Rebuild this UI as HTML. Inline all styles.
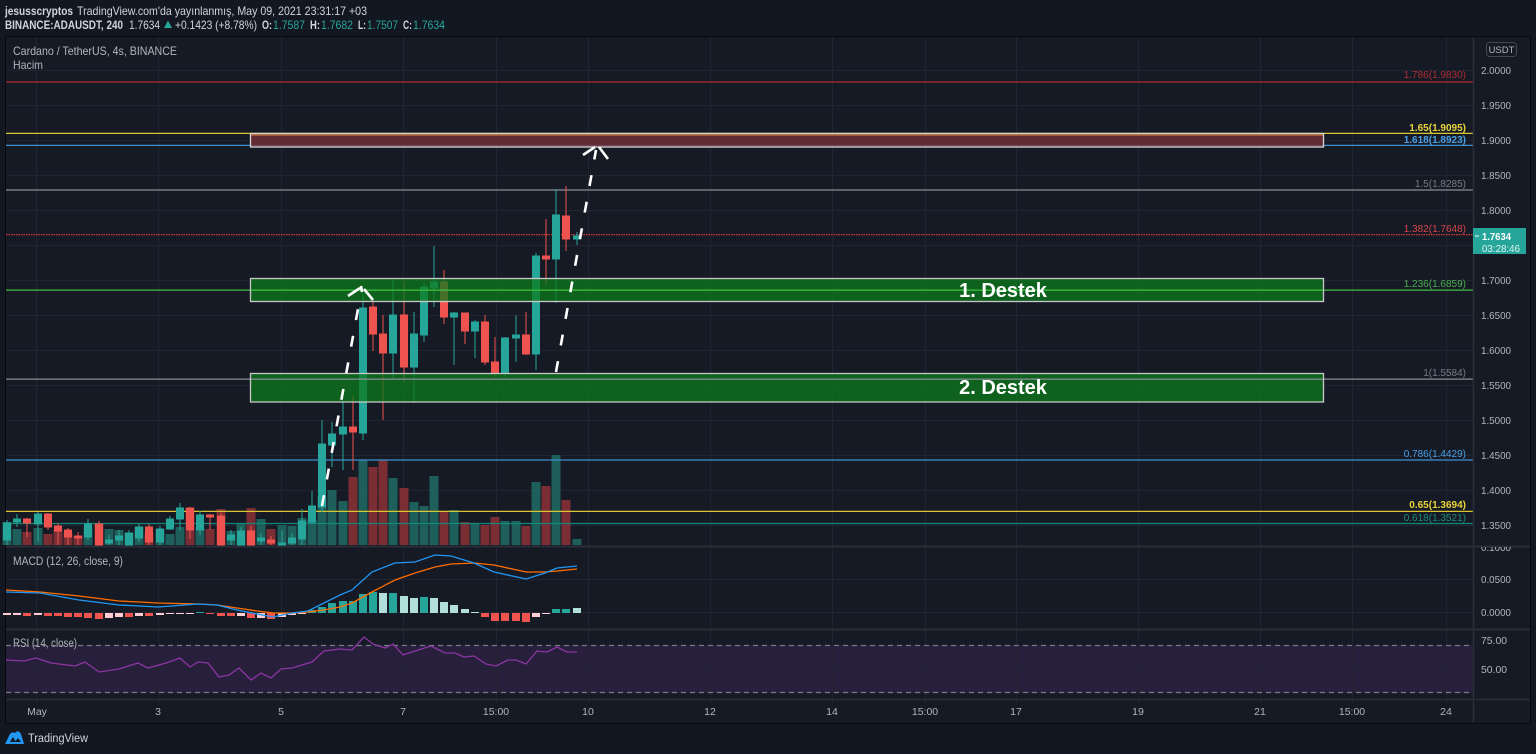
<!DOCTYPE html>
<html><head><meta charset="utf-8">
<style>
html,body{margin:0;padding:0;background:#131722;width:1536px;height:754px;overflow:hidden}
svg{display:block}
text{font-family:"Liberation Sans",sans-serif}
</style></head><body>
<svg width="1536" height="754" viewBox="0 0 1536 754" xmlns="http://www.w3.org/2000/svg">
<defs>
<clipPath id="macdAxis"><rect x="1474" y="547" width="56" height="82"/></clipPath>
<clipPath id="plot"><rect x="6" y="37" width="1467" height="662"/></clipPath>
</defs>
<rect width="1536" height="754" fill="#131722"/>
<!-- header -->
<g font-size="12" fill="#d1d4dc">
<text x="5" y="15" font-weight="bold" textLength="68" lengthAdjust="spacingAndGlyphs">jesusscryptos</text>
<text x="77" y="15" textLength="290" lengthAdjust="spacingAndGlyphs">TradingView.com'da yayınlanmış, May 09, 2021 23:31:17 +03</text>
<text x="5" y="29" font-weight="bold" textLength="118" lengthAdjust="spacingAndGlyphs">BINANCE:ADAUSDT, 240</text>
<text x="129" y="29" textLength="31" lengthAdjust="spacingAndGlyphs">1.7634</text>
<polygon points="164,28 168,20.5 172,28" fill="#26a69a"/>
<text x="175" y="29" textLength="82" lengthAdjust="spacingAndGlyphs">+0.1423 (+8.78%)</text>
<text x="262" y="29" font-weight="bold" textLength="10" lengthAdjust="spacingAndGlyphs">O:</text>
<text x="273" y="29" fill="#26a69a" textLength="32" lengthAdjust="spacingAndGlyphs">1.7587</text>
<text x="310" y="29" font-weight="bold" textLength="10" lengthAdjust="spacingAndGlyphs">H:</text>
<text x="321" y="29" fill="#26a69a" textLength="32" lengthAdjust="spacingAndGlyphs">1.7682</text>
<text x="358" y="29" font-weight="bold" textLength="8" lengthAdjust="spacingAndGlyphs">L:</text>
<text x="367" y="29" fill="#26a69a" textLength="31" lengthAdjust="spacingAndGlyphs">1.7507</text>
<text x="403" y="29" font-weight="bold" textLength="9" lengthAdjust="spacingAndGlyphs">C:</text>
<text x="413" y="29" fill="#26a69a" textLength="32" lengthAdjust="spacingAndGlyphs">1.7634</text>
</g>
<!-- frame -->
<rect x="5.5" y="36.5" width="1525" height="687" fill="#161a25" stroke="#06080c" stroke-width="1"/>
<!-- RSI band -->
<rect x="6" y="645" width="1467" height="48" fill="#271f3c"/>
<!-- grid -->
<g stroke="#212532" stroke-width="1">
<line x1="6" y1="70.5" x2="1473" y2="70.5"/><line x1="6" y1="105.5" x2="1473" y2="105.5"/>
<line x1="6" y1="140.5" x2="1473" y2="140.5"/><line x1="6" y1="175.5" x2="1473" y2="175.5"/>
<line x1="6" y1="210.5" x2="1473" y2="210.5"/><line x1="6" y1="245.5" x2="1473" y2="245.5"/>
<line x1="6" y1="280.5" x2="1473" y2="280.5"/><line x1="6" y1="315.5" x2="1473" y2="315.5"/>
<line x1="6" y1="350.5" x2="1473" y2="350.5"/><line x1="6" y1="385.5" x2="1473" y2="385.5"/>
<line x1="6" y1="420.5" x2="1473" y2="420.5"/><line x1="6" y1="455.5" x2="1473" y2="455.5"/>
<line x1="6" y1="490.5" x2="1473" y2="490.5"/><line x1="6" y1="525.5" x2="1473" y2="525.5"/>
<line x1="6" y1="579.5" x2="1473" y2="579.5"/><line x1="6" y1="612.5" x2="1473" y2="612.5"/>
<line x1="6" y1="669.5" x2="1473" y2="669.5"/>
<line x1="36.5" y1="37" x2="36.5" y2="704"/><line x1="158.5" y1="37" x2="158.5" y2="704"/>
<line x1="281.5" y1="37" x2="281.5" y2="704"/><line x1="403.5" y1="37" x2="403.5" y2="704"/>
<line x1="496.5" y1="37" x2="496.5" y2="704"/><line x1="588.5" y1="37" x2="588.5" y2="704"/>
<line x1="710.5" y1="37" x2="710.5" y2="704"/><line x1="832.5" y1="37" x2="832.5" y2="704"/>
<line x1="925.5" y1="37" x2="925.5" y2="704"/><line x1="1016.5" y1="37" x2="1016.5" y2="704"/>
<line x1="1138.5" y1="37" x2="1138.5" y2="704"/><line x1="1260.5" y1="37" x2="1260.5" y2="704"/>
<line x1="1352.5" y1="37" x2="1352.5" y2="704"/><line x1="1446.5" y1="37" x2="1446.5" y2="704"/>
</g>
<!-- titles -->
<g fill="#b2b5be">
<text x="13" y="55" font-size="12" textLength="164" lengthAdjust="spacingAndGlyphs">Cardano / TetherUS, 4s, BINANCE</text>
<text x="13" y="69" font-size="12" textLength="30" lengthAdjust="spacingAndGlyphs">Hacim</text>
<text x="13" y="565" font-size="11.5" textLength="110" lengthAdjust="spacingAndGlyphs">MACD (12, 26, close, 9)</text>
<text x="13" y="647" font-size="11.5" textLength="64" lengthAdjust="spacingAndGlyphs">RSI (14, close)</text>
</g>
<!-- volume -->
<g>
<rect x="2.5" y="522" width="9" height="23" fill="#1e5f5b"/>
<rect x="12.5" y="529" width="9" height="16" fill="#1e5f5b"/>
<rect x="22.5" y="532" width="9" height="13" fill="#7a2e34"/>
<rect x="33.5" y="528" width="9" height="17" fill="#1e5f5b"/>
<rect x="43.5" y="534" width="9" height="11" fill="#7a2e34"/>
<rect x="53.5" y="530" width="9" height="15" fill="#7a2e34"/>
<rect x="63.5" y="533" width="9" height="12" fill="#7a2e34"/>
<rect x="73.5" y="536" width="9" height="9" fill="#7a2e34"/>
<rect x="83.5" y="527" width="9" height="18" fill="#1e5f5b"/>
<rect x="94.5" y="524" width="9" height="21" fill="#7a2e34"/>
<rect x="104.5" y="529" width="9" height="16" fill="#1e5f5b"/>
<rect x="114.5" y="530" width="9" height="15" fill="#1e5f5b"/>
<rect x="124.5" y="533" width="9" height="12" fill="#1e5f5b"/>
<rect x="134.5" y="527" width="9" height="18" fill="#1e5f5b"/>
<rect x="144.5" y="533" width="9" height="12" fill="#7a2e34"/>
<rect x="155.5" y="529" width="9" height="16" fill="#1e5f5b"/>
<rect x="165.5" y="534" width="9" height="11" fill="#1e5f5b"/>
<rect x="175.5" y="527" width="9" height="18" fill="#1e5f5b"/>
<rect x="185.5" y="508" width="9" height="37" fill="#7a2e34"/>
<rect x="195.5" y="527" width="9" height="18" fill="#1e5f5b"/>
<rect x="205.5" y="529" width="9" height="16" fill="#7a2e34"/>
<rect x="216.5" y="509" width="9" height="36" fill="#7a2e34"/>
<rect x="226.5" y="531" width="9" height="14" fill="#1e5f5b"/>
<rect x="236.5" y="524" width="9" height="21" fill="#1e5f5b"/>
<rect x="246.5" y="508" width="9" height="37" fill="#7a2e34"/>
<rect x="256.5" y="519" width="9" height="26" fill="#1e5f5b"/>
<rect x="266.5" y="529" width="9" height="16" fill="#7a2e34"/>
<rect x="277.5" y="525" width="9" height="20" fill="#1e5f5b"/>
<rect x="287.5" y="526" width="9" height="19" fill="#1e5f5b"/>
<rect x="297.5" y="518" width="9" height="27" fill="#1e5f5b"/>
<rect x="307.5" y="520" width="9" height="25" fill="#1e5f5b"/>
<rect x="317.5" y="497" width="9" height="48" fill="#1e5f5b"/>
<rect x="327.5" y="490" width="9" height="55" fill="#1e5f5b"/>
<rect x="338.5" y="501" width="9" height="44" fill="#1e5f5b"/>
<rect x="348.5" y="477" width="9" height="68" fill="#7a2e34"/>
<rect x="358.5" y="460" width="9" height="85" fill="#1e5f5b"/>
<rect x="368.5" y="467" width="9" height="78" fill="#7a2e34"/>
<rect x="378.5" y="460" width="9" height="85" fill="#7a2e34"/>
<rect x="388.5" y="478" width="9" height="67" fill="#1e5f5b"/>
<rect x="399.5" y="488" width="9" height="57" fill="#7a2e34"/>
<rect x="409.5" y="502" width="9" height="43" fill="#1e5f5b"/>
<rect x="419.5" y="506" width="9" height="39" fill="#1e5f5b"/>
<rect x="429.5" y="476" width="9" height="69" fill="#1e5f5b"/>
<rect x="439.5" y="511" width="9" height="34" fill="#7a2e34"/>
<rect x="449.5" y="510" width="9" height="35" fill="#1e5f5b"/>
<rect x="460.5" y="522" width="9" height="23" fill="#7a2e34"/>
<rect x="470.5" y="524" width="9" height="21" fill="#1e5f5b"/>
<rect x="480.5" y="525" width="9" height="20" fill="#7a2e34"/>
<rect x="490.5" y="517" width="9" height="28" fill="#7a2e34"/>
<rect x="500.5" y="521" width="9" height="24" fill="#1e5f5b"/>
<rect x="511.5" y="521" width="9" height="24" fill="#1e5f5b"/>
<rect x="521.5" y="526" width="9" height="19" fill="#7a2e34"/>
<rect x="531.5" y="482" width="9" height="63" fill="#1e5f5b"/>
<rect x="541.5" y="486" width="9" height="59" fill="#7a2e34"/>
<rect x="551.5" y="455" width="9" height="90" fill="#1e5f5b"/>
<rect x="561.5" y="500" width="9" height="45" fill="#7a2e34"/>
<rect x="572.5" y="539" width="9" height="6" fill="#1e5f5b"/>
</g>
<!-- fib lines -->
<g stroke-width="1.2">
<line x1="6" y1="82" x2="1473" y2="82" stroke="#b02a33"/>
<line x1="6" y1="133.4" x2="1473" y2="133.4" stroke="#d8c530"/>
<line x1="6" y1="145.4" x2="1473" y2="145.4" stroke="#3f8fd0"/>
<line x1="6" y1="190" x2="1473" y2="190" stroke="#8a8d96"/>
<line x1="6" y1="234.6" x2="1473" y2="234.6" stroke="#d03a3a" stroke-dasharray="1.5 1"/>
<line x1="6" y1="290.1" x2="1473" y2="290.1" stroke="#3fbf3f"/>
<line x1="6" y1="379.1" x2="1473" y2="379.1" stroke="#8a8d96"/>
<line x1="6" y1="460" x2="1473" y2="460" stroke="#3f8fd0"/>
<line x1="6" y1="511.4" x2="1473" y2="511.4" stroke="#d8c530"/>
<line x1="6" y1="523.5" x2="1473" y2="523.5" stroke="#13867a"/>
</g>
<!-- candles -->
<g stroke-width="1">
<g stroke="#26a69a" fill="#26a69a">
<line x1="7" y1="520" x2="7" y2="545"/><rect x="3.5" y="523" width="7" height="17"/>
<line x1="17" y1="514" x2="17" y2="527"/><rect x="13.5" y="519" width="7" height="3"/>
<line x1="38" y1="512" x2="38" y2="542"/><rect x="34.5" y="514" width="7" height="10"/>
<line x1="88" y1="519" x2="88" y2="540"/><rect x="84.5" y="524" width="7" height="13"/>
<line x1="109" y1="535" x2="109" y2="545"/><rect x="105.5" y="540" width="7" height="3"/>
<line x1="119" y1="530" x2="119" y2="545"/><rect x="115.5" y="536" width="7" height="4"/>
<line x1="129" y1="530" x2="129" y2="545"/><rect x="125.5" y="533" width="7" height="12"/>
<line x1="139" y1="524" x2="139" y2="542"/><rect x="135.5" y="527" width="7" height="11"/>
<line x1="160" y1="526" x2="160" y2="545"/><rect x="156.5" y="529" width="7" height="13"/>
<line x1="170" y1="516" x2="170" y2="530"/><rect x="166.5" y="519" width="7" height="10"/>
<line x1="180" y1="503" x2="180" y2="530"/><rect x="176.5" y="508" width="7" height="11"/>
<line x1="200" y1="511" x2="200" y2="535"/><rect x="196.5" y="515" width="7" height="15"/>
<line x1="231" y1="530" x2="231" y2="545"/><rect x="227.5" y="535" width="7" height="5"/>
<line x1="241" y1="527" x2="241" y2="545"/><rect x="237.5" y="531" width="7" height="14"/>
<line x1="261" y1="533" x2="261" y2="545"/><rect x="257.5" y="538" width="7" height="3"/>
<line x1="282" y1="530" x2="282" y2="545"/><rect x="278.5" y="543" width="7" height="2"/>
<line x1="292" y1="533" x2="292" y2="545"/><rect x="288.5" y="538" width="7" height="5"/>
<line x1="302" y1="509" x2="302" y2="545"/><rect x="298.5" y="521" width="7" height="18"/>
<line x1="312" y1="491" x2="312" y2="524"/><rect x="308.5" y="506" width="7" height="16"/>
<line x1="322" y1="420" x2="322" y2="512"/><rect x="318.5" y="444" width="7" height="63"/>
<line x1="332" y1="422" x2="332" y2="467"/><rect x="328.5" y="434" width="7" height="11"/>
<line x1="343" y1="400" x2="343" y2="470"/><rect x="339.5" y="427" width="7" height="7"/>
<line x1="363" y1="293" x2="363" y2="440"/><rect x="359.5" y="308" width="7" height="125"/>
<line x1="393" y1="280" x2="393" y2="379"/><rect x="389.5" y="315" width="7" height="38"/>
<line x1="414" y1="312" x2="414" y2="403"/><rect x="410.5" y="334" width="7" height="33"/>
<line x1="424" y1="283" x2="424" y2="342"/><rect x="420.5" y="287" width="7" height="48"/>
<line x1="434" y1="246" x2="434" y2="307"/><rect x="430.5" y="282" width="7" height="6"/>
<line x1="454" y1="312" x2="454" y2="365"/><rect x="450.5" y="313" width="7" height="4"/>
<line x1="475" y1="320" x2="475" y2="358"/><rect x="471.5" y="322" width="7" height="9"/>
<line x1="505" y1="337" x2="505" y2="377"/><rect x="501.5" y="338" width="7" height="35"/>
<line x1="516" y1="315" x2="516" y2="362"/><rect x="512.5" y="335" width="7" height="3"/>
<line x1="536" y1="253" x2="536" y2="370"/><rect x="532.5" y="256" width="7" height="98"/>
<line x1="556" y1="189" x2="556" y2="303"/><rect x="552.5" y="215" width="7" height="44"/>
<line x1="577" y1="232" x2="577" y2="245"/><rect x="573.5" y="236" width="7" height="3"/>
</g>
<g stroke="#ef5350" fill="#ef5350">
<line x1="27" y1="518" x2="27" y2="537"/><rect x="23.5" y="519" width="7" height="4"/>
<line x1="48" y1="513" x2="48" y2="530"/><rect x="44.5" y="514" width="7" height="13"/>
<line x1="58" y1="523" x2="58" y2="545"/><rect x="54.5" y="526" width="7" height="5"/>
<line x1="68" y1="528" x2="68" y2="545"/><rect x="64.5" y="530" width="7" height="7"/>
<line x1="78" y1="532" x2="78" y2="545"/><rect x="74.5" y="536" width="7" height="2"/>
<line x1="99" y1="521" x2="99" y2="545"/><rect x="95.5" y="524" width="7" height="21"/>
<line x1="149" y1="524" x2="149" y2="545"/><rect x="145.5" y="527" width="7" height="15"/>
<line x1="190" y1="507" x2="190" y2="539"/><rect x="186.5" y="508" width="7" height="22"/>
<line x1="210" y1="514" x2="210" y2="530"/><rect x="206.5" y="515" width="7" height="2"/>
<line x1="221" y1="513" x2="221" y2="545"/><rect x="217.5" y="516" width="7" height="29"/>
<line x1="251" y1="526" x2="251" y2="545"/><rect x="247.5" y="531" width="7" height="14"/>
<line x1="271" y1="536" x2="271" y2="545"/><rect x="267.5" y="540" width="7" height="3"/>
<line x1="353" y1="396" x2="353" y2="470"/><rect x="349.5" y="427" width="7" height="5"/>
<line x1="373" y1="298" x2="373" y2="351"/><rect x="369.5" y="307" width="7" height="27"/>
<line x1="383" y1="315" x2="383" y2="420"/><rect x="379.5" y="334" width="7" height="19"/>
<line x1="404" y1="281" x2="404" y2="382"/><rect x="400.5" y="315" width="7" height="52"/>
<line x1="444" y1="270" x2="444" y2="324"/><rect x="440.5" y="282" width="7" height="35"/>
<line x1="465" y1="313" x2="465" y2="344"/><rect x="461.5" y="313" width="7" height="18"/>
<line x1="485" y1="315" x2="485" y2="365"/><rect x="481.5" y="322" width="7" height="40"/>
<line x1="495" y1="337" x2="495" y2="377"/><rect x="491.5" y="362" width="7" height="11"/>
<line x1="526" y1="312" x2="526" y2="355"/><rect x="522.5" y="335" width="7" height="19"/>
<line x1="546" y1="219" x2="546" y2="285"/><rect x="542.5" y="256" width="7" height="3"/>
<line x1="566" y1="186" x2="566" y2="251"/><rect x="562.5" y="216" width="7" height="23"/>
</g>
</g>
<!-- zone boxes -->
<rect x="250.5" y="133.5" width="1073" height="13.5" fill="#752f34" fill-opacity="0.8" stroke="#d6d6d6" stroke-width="1.3"/>
<line x1="251" y1="135" x2="1323" y2="135" stroke="#e08a3a" stroke-width="1"/>
<rect x="250.5" y="278.5" width="1073" height="23" fill="#0d7a1c" fill-opacity="0.75" stroke="#c8c8c8" stroke-width="1.3"/>
<rect x="250.5" y="373.5" width="1073" height="28.5" fill="#0d7a1c" fill-opacity="0.75" stroke="#c8c8c8" stroke-width="1.3"/>
<line x1="251" y1="290.1" x2="1323" y2="290.1" stroke="#3fbf3f" stroke-width="1.2"/>
<line x1="251" y1="379.1" x2="1323" y2="379.1" stroke="#8a8d96" stroke-width="1.2"/>
<text x="1003" y="297" font-size="20" font-weight="bold" fill="#ffffff" text-anchor="middle">1. Destek</text>
<text x="1003" y="394" font-size="20" font-weight="bold" fill="#ffffff" text-anchor="middle">2. Destek</text>
<!-- arrows -->
<g stroke="#ffffff" stroke-width="2.6" fill="none" stroke-linecap="butt">
<line x1="322" y1="506" x2="360" y2="298" stroke-dasharray="11 16"/>
<polyline points="348,296 360,288"/><polyline points="364,289 373,300"/>
<line x1="361" y1="286" x2="362" y2="292"/>
<line x1="556" y1="372" x2="596" y2="150" stroke-dasharray="11 16"/>
<polyline points="583,155 595,147"/><polyline points="599,147 608,159"/>
</g>
<!-- fib labels -->
<g font-size="10" text-anchor="end">
<text x="1466" y="78" fill="#b02a33">1.786(1.9830)</text>
<text x="1466" y="131" fill="#e8d53b" font-weight="bold">1.65(1.9095)</text>
<text x="1466" y="143" fill="#4aa0e6" font-weight="bold">1.618(1.8923)</text>
<text x="1466" y="187" fill="#787b86">1.5(1.8285)</text>
<text x="1466" y="232" fill="#d8454a">1.382(1.7648)</text>
<text x="1466" y="287" fill="#4caf50">1.236(1.6859)</text>
<text x="1466" y="376" fill="#787b86">1(1.5584)</text>
<text x="1466" y="457" fill="#4aa0e6">0.786(1.4429)</text>
<text x="1466" y="508" fill="#e8d53b" font-weight="bold">0.65(1.3694)</text>
<text x="1466" y="521" fill="#1b8c80">0.618(1.3521)</text>
</g>
<!-- MACD histogram -->
<g>
<rect x="3" y="613" width="8" height="2" fill="#ffcdd2"/>
<rect x="13" y="613" width="8" height="2" fill="#ffcdd2"/>
<rect x="23" y="613" width="8" height="3" fill="#ef5350"/>
<rect x="34" y="613" width="8" height="2" fill="#ffcdd2"/>
<rect x="44" y="613" width="8" height="3" fill="#ef5350"/>
<rect x="54" y="613" width="8" height="3" fill="#ef5350"/>
<rect x="64" y="613" width="8" height="4" fill="#ef5350"/>
<rect x="74" y="613" width="8" height="4" fill="#ef5350"/>
<rect x="84" y="613" width="8" height="5" fill="#ef5350"/>
<rect x="95" y="613" width="8" height="6" fill="#ef5350"/>
<rect x="105" y="613" width="8" height="5" fill="#ffcdd2"/>
<rect x="115" y="613" width="8" height="4" fill="#ffcdd2"/>
<rect x="125" y="613" width="8" height="4" fill="#ef5350"/>
<rect x="135" y="613" width="8" height="3" fill="#ffcdd2"/>
<rect x="145" y="613" width="8" height="3" fill="#ef5350"/>
<rect x="156" y="613" width="8" height="2" fill="#ffcdd2"/>
<rect x="166" y="613" width="8" height="1" fill="#ffcdd2"/>
<rect x="176" y="613" width="8" height="1" fill="#ffcdd2"/>
<rect x="186" y="613" width="8" height="1" fill="#ffcdd2"/>
<rect x="196" y="612" width="8" height="1" fill="#26a69a"/>
<rect x="206" y="613" width="8" height="1" fill="#ef5350"/>
<rect x="217" y="613" width="8" height="3" fill="#ef5350"/>
<rect x="227" y="613" width="8" height="3" fill="#ef5350"/>
<rect x="237" y="613" width="8" height="3" fill="#ffcdd2"/>
<rect x="247" y="613" width="8" height="5" fill="#ef5350"/>
<rect x="257" y="613" width="8" height="5" fill="#ffcdd2"/>
<rect x="267" y="613" width="8" height="6" fill="#ef5350"/>
<rect x="278" y="613" width="8" height="4" fill="#ffcdd2"/>
<rect x="288" y="613" width="8" height="2" fill="#ffcdd2"/>
<rect x="298" y="613" width="8" height="1" fill="#ffcdd2"/>
<rect x="308" y="610" width="8" height="3" fill="#26a69a"/>
<rect x="318" y="607" width="8" height="6" fill="#26a69a"/>
<rect x="328" y="603" width="8" height="10" fill="#26a69a"/>
<rect x="339" y="601" width="8" height="12" fill="#26a69a"/>
<rect x="349" y="601" width="8" height="12" fill="#26a69a"/>
<rect x="359" y="594" width="8" height="19" fill="#26a69a"/>
<rect x="369" y="592" width="8" height="21" fill="#26a69a"/>
<rect x="379" y="593" width="8" height="20" fill="#b2dfdb"/>
<rect x="389" y="593" width="8" height="20" fill="#26a69a"/>
<rect x="400" y="596" width="8" height="17" fill="#b2dfdb"/>
<rect x="410" y="598" width="8" height="15" fill="#b2dfdb"/>
<rect x="420" y="597" width="8" height="16" fill="#26a69a"/>
<rect x="430" y="598" width="8" height="15" fill="#b2dfdb"/>
<rect x="440" y="602" width="8" height="11" fill="#b2dfdb"/>
<rect x="450" y="605" width="8" height="8" fill="#b2dfdb"/>
<rect x="461" y="609" width="8" height="4" fill="#b2dfdb"/>
<rect x="471" y="612" width="8" height="1" fill="#b2dfdb"/>
<rect x="481" y="613" width="8" height="4" fill="#ef5350"/>
<rect x="491" y="613" width="8" height="8" fill="#ef5350"/>
<rect x="501" y="613" width="8" height="8" fill="#ef5350"/>
<rect x="512" y="613" width="8" height="8" fill="#ef5350"/>
<rect x="522" y="613" width="8" height="9" fill="#ef5350"/>
<rect x="532" y="613" width="8" height="4" fill="#ffcdd2"/>
<rect x="542" y="613" width="8" height="1" fill="#ffcdd2"/>
<rect x="552" y="609" width="8" height="4" fill="#26a69a"/>
<rect x="562" y="609" width="8" height="4" fill="#26a69a"/>
<rect x="573" y="608" width="8" height="5" fill="#b2dfdb"/>
</g>
<!-- MACD lines -->
<polyline fill="none" stroke="#ff6d00" stroke-width="1.3" points="6,590 40,592 79,596 119,601 158,603 198,604 217,605 237,608 257,611 273,613 292,613 308,612 324,610 340,607 352,603 372,592 395,580 415,573 435,567 451,564 474,563 494,565 526,572 545,572 557,571 577,569"/>
<polyline fill="none" stroke="#2196f3" stroke-width="1.3" points="6,592 40,593 79,600 119,605 158,607 198,604 217,605 237,610 257,614 273,617 292,613 308,611 324,603 340,595 352,590 372,572 395,563 415,562 435,555 451,556 474,563 494,572 526,579 545,573 557,568 577,566"/>
<!-- RSI -->
<g stroke="#787b86" stroke-width="1.2" stroke-dasharray="5 4">
<line x1="6" y1="645.5" x2="1473" y2="645.5"/>
<line x1="6" y1="692.5" x2="1473" y2="692.5"/>
</g>
<polyline fill="none" stroke="#8d35a3" stroke-width="1.3" points="6,660 24,661 36,658 51,663 75,666 85,662 99,672 119,669 138,663 148,668 166,663 180,658 190,667 198,662 208,663 219,677 229,675 239,668 251,680 261,673 271,678 281,669 292,668 312,662 324,651 340,649 352,650 364,637 373,644 385,648 393,644 403,655 415,651 431,646 445,653 455,653 464,657 474,656 486,664 496,666 508,660 516,660 526,664 537,651 547,652 557,647 567,652 577,652"/>
<!-- separators -->
<g stroke="#2a2e39">
<line x1="6" y1="546.5" x2="1530" y2="546.5" stroke-width="2"/>
<line x1="6" y1="629.5" x2="1530" y2="629.5" stroke-width="2"/>
<line x1="6" y1="699.5" x2="1530" y2="699.5" stroke-width="1.5"/>
<line x1="1473.5" y1="37" x2="1473.5" y2="723" stroke-width="1.5"/>
</g>
<!-- price axis -->
<g font-size="10.5" fill="#b2b5be">
<text x="1481" y="74" textLength="30" lengthAdjust="spacingAndGlyphs">2.0000</text>
<text x="1481" y="109" textLength="30" lengthAdjust="spacingAndGlyphs">1.9500</text>
<text x="1481" y="144" textLength="30" lengthAdjust="spacingAndGlyphs">1.9000</text>
<text x="1481" y="179" textLength="30" lengthAdjust="spacingAndGlyphs">1.8500</text>
<text x="1481" y="214" textLength="30" lengthAdjust="spacingAndGlyphs">1.8000</text>
<text x="1481" y="284" textLength="30" lengthAdjust="spacingAndGlyphs">1.7000</text>
<text x="1481" y="319" textLength="30" lengthAdjust="spacingAndGlyphs">1.6500</text>
<text x="1481" y="354" textLength="30" lengthAdjust="spacingAndGlyphs">1.6000</text>
<text x="1481" y="389" textLength="30" lengthAdjust="spacingAndGlyphs">1.5500</text>
<text x="1481" y="424" textLength="30" lengthAdjust="spacingAndGlyphs">1.5000</text>
<text x="1481" y="459" textLength="30" lengthAdjust="spacingAndGlyphs">1.4500</text>
<text x="1481" y="494" textLength="30" lengthAdjust="spacingAndGlyphs">1.4000</text>
<text x="1481" y="529" textLength="30" lengthAdjust="spacingAndGlyphs">1.3500</text>
<text x="1481" y="551" textLength="30" lengthAdjust="spacingAndGlyphs" clip-path="url(#macdAxis)">0.1000</text>
<text x="1481" y="583" textLength="30" lengthAdjust="spacingAndGlyphs">0.0500</text>
<text x="1481" y="616" textLength="30" lengthAdjust="spacingAndGlyphs">0.0000</text>
<text x="1481" y="644" textLength="26" lengthAdjust="spacingAndGlyphs">75.00</text>
<text x="1481" y="673" textLength="26" lengthAdjust="spacingAndGlyphs">50.00</text>
</g>
<rect x="1486.5" y="42.5" width="30" height="14" rx="3" fill="#161a25" stroke="#434651"/>
<text x="1501.5" y="53" font-size="9.5" fill="#b2b5be" text-anchor="middle">USDT</text>
<rect x="1473" y="228" width="53" height="26" fill="#26a69a"/>
<line x1="1475" y1="236" x2="1479" y2="236" stroke="#ffffff" stroke-width="1"/>
<text x="1482" y="240" font-size="10.5" font-weight="bold" fill="#ffffff" textLength="29" lengthAdjust="spacingAndGlyphs">1.7634</text>
<text x="1482" y="252" font-size="10.5" fill="#e0f2f1" textLength="38" lengthAdjust="spacingAndGlyphs">03:28:46</text>
<!-- time axis -->
<g font-size="10.5" fill="#b2b5be" text-anchor="middle">
<text x="37" y="715">May</text>
<text x="158" y="715">3</text>
<text x="281" y="715">5</text>
<text x="403" y="715">7</text>
<text x="496" y="715">15:00</text>
<text x="588" y="715">10</text>
<text x="710" y="715">12</text>
<text x="832" y="715">14</text>
<text x="925" y="715">15:00</text>
<text x="1016" y="715">17</text>
<text x="1138" y="715">19</text>
<text x="1260" y="715">21</text>
<text x="1352" y="715">15:00</text>
<text x="1446" y="715">24</text>
</g>
<!-- footer -->
<g fill="#2196f3">
<path d="M5,744 L9,736 Q11,731 15,733 Q18,729 21,734 L24,744 Z"/>
</g>
<g fill="#131722">
<polygon points="10,742 13,737 16,742"/>
<polygon points="15,742 18,738 21,742"/>
</g>
<text x="28" y="742" font-size="11.5" fill="#d1d4dc" textLength="60" lengthAdjust="spacingAndGlyphs">TradingView</text>
</svg>
</body></html>
